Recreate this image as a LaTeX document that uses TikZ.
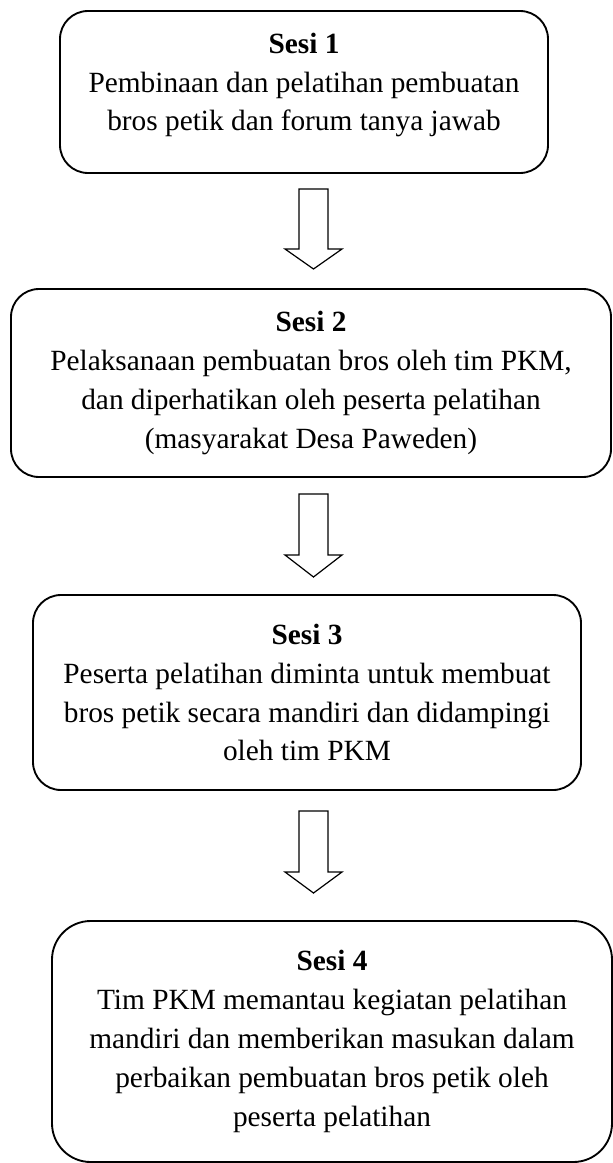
\documentclass[tikz,border=0pt]{standalone}
\usepackage{fontspec}
\setmainfont{Liberation Serif}
\begin{document}
\begin{tikzpicture}[x=0.75pt,y=-0.75pt,
  sesi/.style={draw, line width=1.4pt, rounded corners=21pt, align=center,
    inner sep=0pt, font=\fontsize{22}{29.2}\selectfont},
  blok/.style={draw, line width=0.9pt, fill=white, line join=miter}]
\useasboundingbox (0,0) rectangle (613,1163);

\node[sesi, minimum width=366pt, minimum height=121.5pt] (s1) at (304,92)
  {\textbf{Sesi 1}\\Pembinaan dan pelatihan pembuatan\\bros petik dan forum tanya jawab\\[-14pt]\mbox{}};

\node[sesi, minimum width=450pt, minimum height=141pt] (s2) at (311,383)
  {\textbf{Sesi 2}\\Pelaksanaan pembuatan bros oleh tim PKM,\\dan diperhatikan oleh peserta pelatihan\\(masyarakat Desa Paweden)};

\node[sesi, minimum width=411pt, minimum height=146.25pt] (s3) at (307,692.5)
  {\textbf{Sesi 3}\\Peserta pelatihan diminta untuk membuat\\bros petik secara mandiri dan didampingi\\oleh tim PKM};

\node[sesi, rounded corners=29pt, minimum width=420pt, minimum height=180.75pt] (s4) at (332,1041.5)
  {\textbf{Sesi 4}\\Tim PKM memantau kegiatan pelatihan\\mandiri dan memberikan masukan dalam\\perbaikan pembuatan bros petik oleh\\peserta pelatihan};

% panah antar sesi
\coordinate (a1) at (313.5,189);
\coordinate (a2) at (313.5,494);
\coordinate (a3) at (313.5,811);

\draw[blok] (a1) ++(-14.5,0) -- ++(29,0) -- ++(0,60) -- ++(14,0) -- ++(-28.5,20) -- ++(-28.5,-20) -- ++(14,0) -- cycle;
\draw[blok] (a2) ++(-14.5,0) -- ++(29,0) -- ++(0,61) -- ++(14,0) -- ++(-28.5,22) -- ++(-28.5,-22) -- ++(14,0) -- cycle;
\draw[blok] (a3) ++(-14.5,0) -- ++(29,0) -- ++(0,61) -- ++(14,0) -- ++(-28.5,21) -- ++(-28.5,-21) -- ++(14,0) -- cycle;

\end{tikzpicture}
\end{document}
